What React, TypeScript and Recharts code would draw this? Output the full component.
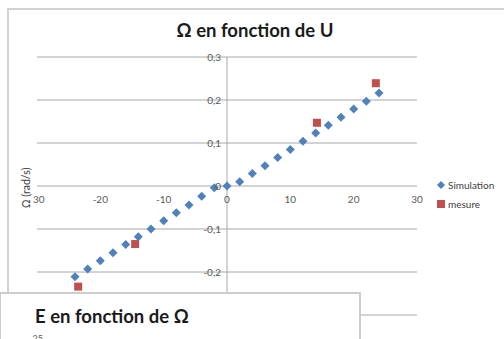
import React from "react";
import {
  CartesianGrid,
  Legend,
  ReferenceLine,
  Scatter,
  ScatterChart,
  XAxis,
  YAxis,
} from "recharts";

// Ω en fonction de U : simulation vs mesure
const simU = [-24, -22, -20, -18, -16, -14, -12, -10, -8, -6, -4, -2, 0, 2, 4, 6, 8, 10, 12, 14, 16, 18, 20, 22, 24];
const simOmega = [
  -0.211, -0.193, -0.174, -0.155, -0.136, -0.118, -0.1, -0.081, -0.062, -0.044, -0.024, -0.004, 0,
  0.01, 0.029, 0.047, 0.066, 0.085, 0.104, 0.123, 0.141, 0.16, 0.179, 0.197, 0.216,
];
const mesU = [-23.5, -14.5, 14.2, 23.5];
const mesOmega = [-0.234, -0.135, 0.147, 0.239];

const xTicks = [-30, -20, -10, 0, 10, 20, 30];
const yTicks = [-0.3, -0.2, -0.1, 0, 0.1, 0.2, 0.3];
// second chart (mostly hidden behind the page edge)
const eTicks = [0, 5, 10, 15, 20, 25];

const simData = simU.map((u, i) => ({ u, omega: simOmega[i] }));
const mesData = mesU.map((u, i) => ({ u, omega: mesOmega[i] }));

const W = 504;
const H = 339;
const X_AXIS_H = 24;
const Y_AXIS_W = 37;
const M = { top: 57, right: 87, bottom: 0, left: 0 };
const PLOT_W = W - Y_AXIS_W - M.right;
const PLOT_H = H - M.top - X_AXIS_H;
const ZERO_X = Y_AXIS_W + PLOT_W / 2;
const ZERO_Y = M.top + PLOT_H / 2;

const FONT = 'Lato, "Open Sans", sans-serif';
const GRID = "#a8a8a8";
const BLUE = "#4f81bd";
const RED = "#c0504d";
const LABEL = "#595959";

const fmt = (v: number) => String(v).replace(".", ",");

const DiamondDot = (p: any) => {
  const { cx, cy } = p;
  const r = 4.5;
  return (
    <polygon
      points={`${cx},${cy - r} ${cx + r},${cy} ${cx},${cy + r} ${cx - r},${cy}`}
      fill={BLUE}
    />
  );
};

const SquareDot = (p: any) => {
  const { cx, cy } = p;
  return <rect x={cx - 4} y={cy - 4} width={8} height={8} fill={RED} />;
};

// axes cross at (0,0), so labels sit next to the zero lines
const XTick = (p: any) => (
  <text x={p.x} y={ZERO_Y + 17} textAnchor="middle" fontSize={10} fill={LABEL} fontFamily={FONT}>
    {fmt(p.payload.value)}
  </text>
);

const YTick = (p: any) => (
  <text x={ZERO_X - 6} y={p.y + 3.5} textAnchor="end" fontSize={10} fill={LABEL} fontFamily={FONT}>
    {fmt(p.payload.value)}
  </text>
);

const LegendBox = (p: any) => (
  <div style={{ fontFamily: FONT, fontSize: 10, color: "#404040" }}>
    {(p.payload || []).map((e: any, i: number) => (
      <div key={i} style={{ display: "flex", alignItems: "center", height: 19 }}>
        <svg width={10} height={10} style={{ marginRight: 2 }}>
          {i === 0 ? (
            <polygon points="5,1 9,5 5,9 1,5" fill={BLUE} />
          ) : (
            <rect x={1} y={1} width={8} height={8} fill={RED} />
          )}
        </svg>
        <span>{e.value}</span>
      </div>
    ))}
  </div>
);

export default function App() {
  return (
    <div
      style={{
        position: "fixed",
        left: 0,
        top: 0,
        width: W,
        height: H,
        overflow: "hidden",
        background: "#fff",
        fontFamily: FONT,
      }}
    >
      <div
        style={{
          position: "absolute",
          left: 7,
          top: 8,
          width: 600,
          height: 500,
          border: "2px solid #d2d2d2",
        }}
      />
      <div
        style={{
          position: "absolute",
          left: 150,
          top: 19,
          width: 210,
          textAlign: "center",
          fontSize: 18.5,
          fontWeight: 700,
          color: "#1a1a1a",
        }}
      >
        Ω en fonction de U
      </div>

      <div style={{ position: "absolute", left: 0, top: 0 }}>
        <ScatterChart width={W} height={H} margin={M}>
          <CartesianGrid horizontal vertical={false} stroke={GRID} strokeWidth={1} />
          <XAxis
            type="number"
            dataKey="u"
            domain={[-30, 30]}
            ticks={xTicks}
            interval={0}
            height={X_AXIS_H}
            axisLine={false}
            tickLine={false}
            tick={<XTick />}
          />
          <YAxis
            type="number"
            dataKey="omega"
            domain={[-0.3, 0.3]}
            ticks={yTicks}
            interval={0}
            width={Y_AXIS_W}
            axisLine={false}
            tickLine={false}
            tick={<YTick />}
          />
          <ReferenceLine x={0} stroke={GRID} />
          <Scatter name="Simulation" data={simData} shape={DiamondDot} isAnimationActive={false} />
          <Scatter name="mesure" data={mesData} shape={SquareDot} isAnimationActive={false} />
          <Legend
            layout="vertical"
            align="center"
            verticalAlign="middle"
            content={<LegendBox />}
            wrapperStyle={{ left: 436, top: 175, width: 70 }}
          />
        </ScatterChart>
      </div>

      <div
        style={{
          position: "absolute",
          left: 20,
          top: 208,
          transform: "rotate(-90deg)",
          transformOrigin: "0 0",
          fontSize: 10.5,
          lineHeight: "13px",
          color: "#404040",
          background: "#fff",
          whiteSpace: "nowrap",
          paddingRight: 1,
        }}
      >
        Ω (rad/s)
      </div>

      <div
        style={{
          position: "absolute",
          left: -1,
          top: 292,
          width: 358,
          height: 120,
          border: "2px solid #cdcdcd",
          background: "#fff",
        }}
      >
        <div
          style={{
            position: "absolute",
            left: 34,
            top: 11,
            fontSize: 18.5,
            fontWeight: 700,
            color: "#1a1a1a",
            whiteSpace: "nowrap",
          }}
        >
          E en fonction de Ω
        </div>
        <div style={{ position: "absolute", left: 0, top: 0 }}>
          <ScatterChart width={354} height={200} margin={{ top: 45, right: 10, bottom: 10, left: 0 }}>
            <XAxis type="number" dataKey="w" domain={[0, 0.3]} allowDataOverflow hide />
            <YAxis
              type="number"
              dataKey="e"
              domain={[0, 25]}
              ticks={eTicks}
              interval={0}
              allowDataOverflow
              width={50}
              axisLine={false}
              tickLine={false}
              tick={{ fontSize: 9, fill: LABEL, fontFamily: FONT }}
            />
            <Scatter data={[]} isAnimationActive={false} />
          </ScatterChart>
        </div>
      </div>
    </div>
  );
}
